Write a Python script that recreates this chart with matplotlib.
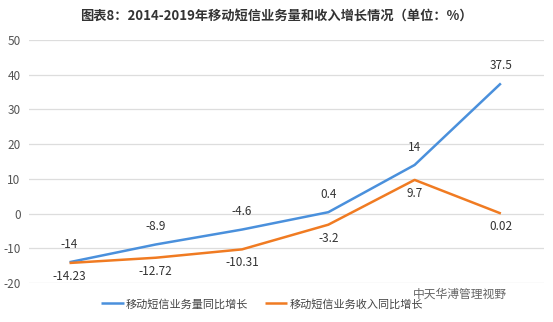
import matplotlib
matplotlib.use("Agg")
import matplotlib.pyplot as plt

plt.rcParams['font.family'] = ['Noto Sans CJK SC', 'DejaVu Sans']

years = ["2014", "2015", "2016", "2017", "2018", "2019"]
volume_growth = [-14, -8.9, -4.6, 0.4, 14, 37.5]
revenue_growth = [-14.23, -12.72, -10.31, -3.2, 9.7, 0.02]
volume_labels = ["-14", "-8.9", "-4.6", "0.4", "14", "37.5"]
revenue_labels = ["-14.23", "-12.72", "-10.31", "-3.2", "9.7", "0.02"]
yticks = [-20, -10, 0, 10, 20, 30, 40, 50]

blue = "#4A90DC"
orange = "#F07B22"

fig = plt.figure(figsize=(5.53, 3.22), dpi=100)
ax = fig.add_axes([29/553, 1-283/322, (544-29)/553, (283-40)/322])

x = list(range(len(years)))
ax.plot(x, volume_growth, color=blue, lw=1.8, label="移动短信业务量同比增长", solid_capstyle='butt')
ax.plot(x, revenue_growth, color=orange, lw=1.8, label="移动短信业务收入同比增长", solid_capstyle='butt')

for xi, v, t in zip(x, volume_growth, volume_labels):
    ax.annotate(t, (xi, v), xytext=(0, 8), textcoords='offset points',
                ha='center', va='bottom', fontsize=8.5, color='#333333')
for xi, v, t in zip(x, revenue_growth, revenue_labels):
    ax.annotate(t, (xi, v), xytext=(0, -5), textcoords='offset points',
                ha='center', va='top', fontsize=8.5, color='#333333')

ax.set_xlim(-0.47, 5.5)
ax.set_ylim(-20, 50)
ax.set_yticks(yticks)
ax.set_yticklabels([str(t) for t in yticks], fontsize=8.5, color='#555555')
ax.set_xticks([])
ax.tick_params(axis='y', length=0, pad=6)
ax.grid(axis='y', color='#DDDDDD', lw=0.9)
ax.set_axisbelow(True)
for s in ax.spines.values():
    s.set_visible(False)

fig.text(0.5, 1-16/322, "图表8：2014-2019年移动短信业务量和收入增长情况（单位：%）",
         ha='center', va='center', fontsize=9.5, fontweight='bold', color='#333333')

leg = fig.legend(loc='center', bbox_to_anchor=(262/553, 1-304/322), ncol=2, frameon=False,
                 fontsize=8, handlelength=2.0, handletextpad=0.2, columnspacing=1.5)
for t in leg.get_texts():
    t.set_color('#444444')

fig.text(507/553, 1-294/322, "中天华溥管理视野", ha='right', va='center', fontsize=8.5,
         color='#555555', alpha=0.9)

fig.savefig("out.png", dpi=100)
